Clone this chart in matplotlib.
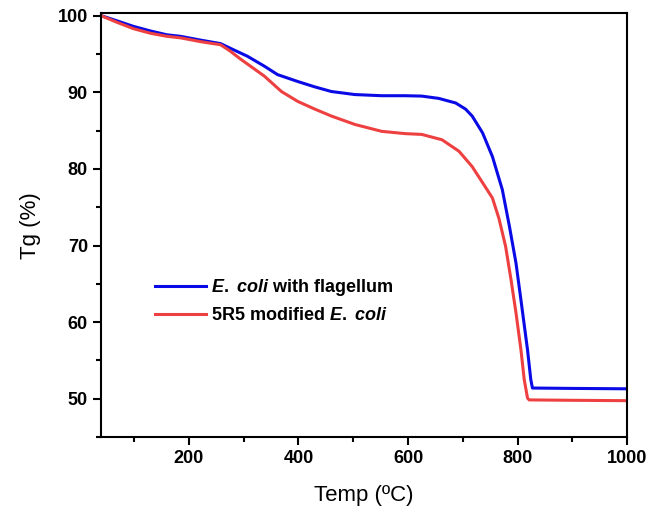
import matplotlib
matplotlib.use("Agg")
import matplotlib.pyplot as plt
from matplotlib.ticker import MultipleLocator

plt.rcParams['font.family'] = ['Liberation Sans', 'DejaVu Sans']
plt.rcParams['mathtext.fontset'] = 'custom'
plt.rcParams['mathtext.it'] = 'Liberation Sans:italic:bold'
plt.rcParams['mathtext.rm'] = 'Liberation Sans:bold'

# --- datos ---
temp_flag = [40, 70, 99, 130, 160, 185, 222, 258, 280, 307, 338, 362, 399, 430, 460,
             503, 552, 595, 625, 656, 687, 705, 717, 736, 754, 772, 785, 797, 806,
             818, 824, 827, 900, 1000]
tg_flag = [100.0, 99.3, 98.6, 98.0, 97.5, 97.3, 96.8, 96.35, 95.6, 94.7, 93.4, 92.3, 91.4, 90.7, 90.1,
           89.7, 89.55, 89.55, 89.5, 89.2, 88.6, 87.8, 86.9, 84.7, 81.6, 77.3, 72.5, 67.7, 62.9,
           56.4, 52.5, 51.4, 51.35, 51.3]

temp_5r5 = [40, 70, 99, 130, 160, 185, 222, 258, 275, 295, 338, 369, 399, 430, 460,
            503, 552, 595, 625, 662, 693, 717, 736, 754, 766, 778, 788, 797, 806,
            812, 818, 821, 900, 1000]
tg_5r5 = [100.0, 99.1, 98.3, 97.7, 97.3, 97.1, 96.6, 96.2, 95.4, 94.3, 92.1, 90.1, 88.8, 87.8, 86.9,
          85.8, 84.9, 84.6, 84.5, 83.8, 82.3, 80.3, 78.2, 76.2, 73.5, 69.9, 65.5, 61.2, 56.4,
          52.5, 50.1, 49.85, 49.8, 49.75]

fig = plt.figure(figsize=(6.48, 5.13), dpi=100)
ax = fig.add_axes([0.156, 0.148, 0.812, 0.826])

ax.plot(temp_flag, tg_flag, color='#0a0ae6', lw=2.2, label=r'$E.$ $coli$ with flagellum')
ax.plot(temp_5r5, tg_5r5, color='#ee4040', lw=2.2, label=r'5R5 modified $E.$ $coli$')

ax.set_xlim(40, 1000)
ax.set_ylim(45, 100.3)
ax.xaxis.set_major_locator(MultipleLocator(200))
ax.xaxis.set_minor_locator(MultipleLocator(100))
ax.yaxis.set_major_locator(MultipleLocator(10))
ax.yaxis.set_minor_locator(MultipleLocator(5))
ax.tick_params(which='major', direction='out', length=6, width=1.5, labelsize=13)
ax.tick_params(which='minor', direction='out', length=3.5, width=1.5)
for lbl in ax.get_xticklabels() + ax.get_yticklabels():
    lbl.set_fontweight('bold')
for sp in ax.spines.values():
    sp.set_linewidth(1.5)

ax.set_xlabel('Temp (ºC)', fontsize=16, labelpad=13)
ax.set_ylabel('Tg (%)', fontsize=16, labelpad=12)

leg = ax.legend(loc='upper left', bbox_to_anchor=(0.103, 0.377), frameon=False,
                fontsize=13, handlelength=2.8, handletextpad=0.3, labelspacing=0.5,
                borderaxespad=0, borderpad=0)
for t in leg.get_texts():
    t.set_fontweight('bold')

plt.savefig('out.png', dpi=100)
plt.close(fig)
